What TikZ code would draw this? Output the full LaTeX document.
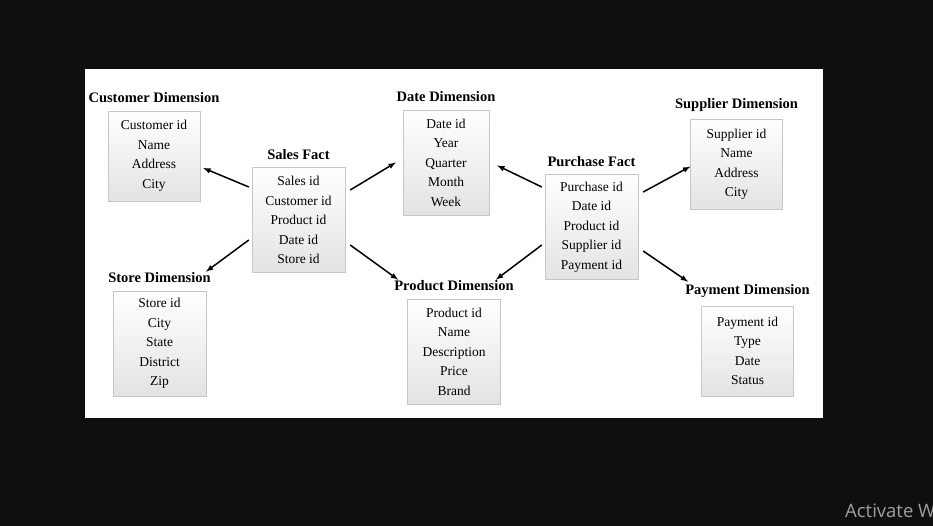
\documentclass[tikz,border=0pt]{standalone}
\usepackage{fontspec}
\setmainfont{Liberation Serif}
\newfontfamily\wmfont{Open Sans}
\usetikzlibrary{calc,positioning}
\definecolor{screen}{HTML}{0F0F0F}

\begin{document}
\begin{tikzpicture}[x=1pt,y=-1pt,
                    table/.style={draw=gray!45,top color=white,bottom color=gray!22,align=center,
                                  font=\fontsize{13.5}{19.5}\selectfont,inner sep=2pt},
                    table4/.style={table,minimum width=92pt,minimum height=90pt},
                    table5/.style={table,minimum width=93pt,minimum height=105pt},
                    title/.style={font=\bfseries\fontsize{14.5}{16}\selectfont,inner sep=1pt},
                    link/.style={-latex,line width=1.5pt}]
    \fill[screen] (0,0) rectangle (933,526);
    \useasboundingbox (0,0) rectangle (933,526);
    \fill[white] (85,69) rectangle (823,418);

    % tables
    \node[table4] (cust) at (154,156) {Customer id\\Name\\Address\\City};
    \node[table5] (sales) at (298.5,220) {Sales id\\Customer id\\Product id\\Date id\\Store id};
    \node[table5,minimum width=86pt] (date) at (446,162.5) {Date id\\Year\\Quarter\\Month\\Week};
    \node[table5] (purch) at (591.5,227) {Purchase id\\Date id\\Product id\\Supplier id\\Payment id};
    \node[table4] (supp) at (736.5,164.5) {Supplier id\\Name\\Address\\City};
    \node[table5] (store) at (159.5,343.5) {Store id\\City\\State\\District\\Zip};
    \node[table5] (prod) at (454,351.5) {Product id\\Name\\Description\\Price\\Brand};
    \node[table4] (pay) at (747.5,351) {Payment id\\Type\\Date\\Status};

    % titles
    \node[title,above=6.5pt of cust] (cust title) {Customer Dimension};
    \node[title,above=6.5pt of sales] (sales title) {Sales Fact};
    \node[title,above=6.5pt of date] (date title) {Date Dimension};
    \node[title,above=6.5pt of purch] (purch title) {Purchase Fact};
    \node[title,above=6.5pt of supp] (supp title) {Supplier Dimension};
    \node[title,above=6.5pt of store] (store title) {Store Dimension};
    \node[title,above=6.5pt of prod] (prod title) {Product Dimension};
    \node[title,above=6.5pt of pay] (pay title) {Payment Dimension};

    % links
    \draw[link] ($(sales.west)+(-3,-33)$) -- ($(cust.east)+(3,12)$);
    \draw[link] ($(sales.east)+(5,-30)$) -- ($(date.west)+(-7,0)$);
    \draw[link] ($(sales.west)+(-3,20)$) -- ($(store title.north east)+(-6,0)$);
    \draw[link] ($(sales.east)+(5,25)$) -- ($(prod title.north west)+(5,0)$);
    \draw[link] ($(purch.west)+(-3,-40)$) -- ($(date.east)+(8,3)$);
    \draw[link] ($(purch.west)+(-3,18)$) -- ($(prod title.north east)+(-19,0)$);
    \draw[link] ($(purch.east)+(5,-35)$) -- ($(supp.west)+(0,2)$);
    \draw[link] ($(purch.east)+(5,24)$) -- ($(pay title.north west)+(4,-2)$);

    \node[anchor=base west,text=gray!75,font=\wmfont\fontsize{18.5}{21}\selectfont,inner sep=0pt] (watermark) at (845,517) {Activate W};
\end{tikzpicture}
\end{document}
